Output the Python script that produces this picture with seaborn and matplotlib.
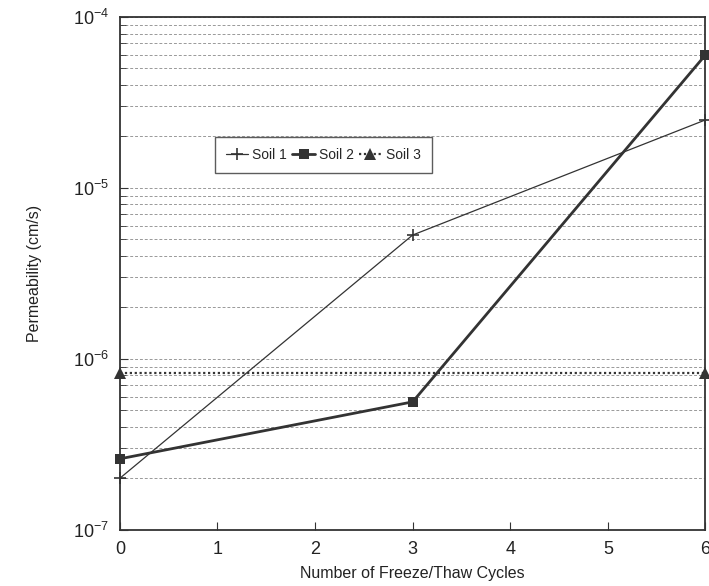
import matplotlib
matplotlib.use("Agg")
import matplotlib.pyplot as plt
import seaborn as sns
import pandas as pd
import numpy as np
from matplotlib.ticker import LogLocator, FixedLocator

cycles1 = [0, 3, 6]
soil1 = [2.0e-7, 5.3e-6, 2.5e-5]
cycles2 = [0, 3, 6]
soil2 = [2.6e-7, 5.6e-7, 6.0e-5]
cycles3 = [0, 6]
soil3 = [8.3e-7, 8.3e-7]
series_names = ["Soil 1", "Soil 2", "Soil 3"]
x_ticks = [0, 1, 2, 3, 4, 5, 6]

df = pd.DataFrame({
    "cycles": cycles1 + cycles2 + cycles3,
    "perm": soil1 + soil2 + soil3,
    "soil": ["Soil 1"] * len(cycles1) + ["Soil 2"] * len(cycles2) + ["Soil 3"] * len(cycles3),
})

sns.set_style("white")
plt.rcParams["font.family"] = ["Liberation Sans", "DejaVu Sans"]

fig = plt.figure(figsize=(7.09, 5.86), dpi=100)
ax = fig.add_axes([0.169, 0.096, 0.826, 0.875])

styles = {
    "Soil 1": dict(marker="+", lw=0.9, ls="-", ms=9, mew=1.2),
    "Soil 2": dict(marker="s", lw=2.0, ls="-", ms=7, mew=0),
    "Soil 3": dict(marker="^", lw=1.6, ls=(0, (1, 1.2)), ms=9, mew=0),
}
for name in series_names:
    sub = df[df.soil == name]
    st = styles[name]
    sns.lineplot(data=sub, x="cycles", y="perm", ax=ax, color="#333333",
                 marker=st["marker"], lw=st["lw"], ls=st["ls"],
                 markersize=st["ms"], markeredgewidth=st["mew"],
                 markeredgecolor="#333333", label=name, clip_on=False)

ax.set_yscale("log")
ax.set_ylim(1e-7, 1e-4)
ax.set_xlim(0, 6)
ax.xaxis.set_major_locator(FixedLocator(x_ticks))
ax.set_xticklabels([str(t) for t in x_ticks])
ax.yaxis.set_major_locator(LogLocator(base=10, numticks=10))
ax.yaxis.set_minor_locator(LogLocator(base=10, subs=np.arange(2, 10), numticks=20))
ax.yaxis.grid(True, which="both", ls=(0, (3, 2)), color="#999999", lw=0.7)
ax.xaxis.grid(False)
ax.tick_params(axis="both", which="both", direction="in", left=True, bottom=True,
               labelsize=13, color="#333333", labelcolor="#222222")
ax.tick_params(axis="y", which="major", length=6, pad=8)
ax.tick_params(axis="y", which="minor", length=4)
ax.tick_params(axis="x", length=6, pad=8)
for sp in ax.spines.values():
    sp.set_color("#333333")
    sp.set_linewidth(1.3)

ax.set_xlabel("Number of Freeze/Thaw Cycles", fontsize=11.5, color="#222222", labelpad=6)
ax.set_ylabel("Permeability (cm/s)", fontsize=11.5, color="#222222", labelpad=22)

leg = ax.legend(loc="upper left", bbox_to_anchor=(0.15, 0.78), ncol=3,
                frameon=True, fontsize=10, handlelength=1.6, columnspacing=0.4,
                handletextpad=0.3, borderpad=0.8, fancybox=False)
leg.get_frame().set_edgecolor("#333333")
leg.get_frame().set_linewidth(1.0)

fig.savefig("out.png", dpi=100)
